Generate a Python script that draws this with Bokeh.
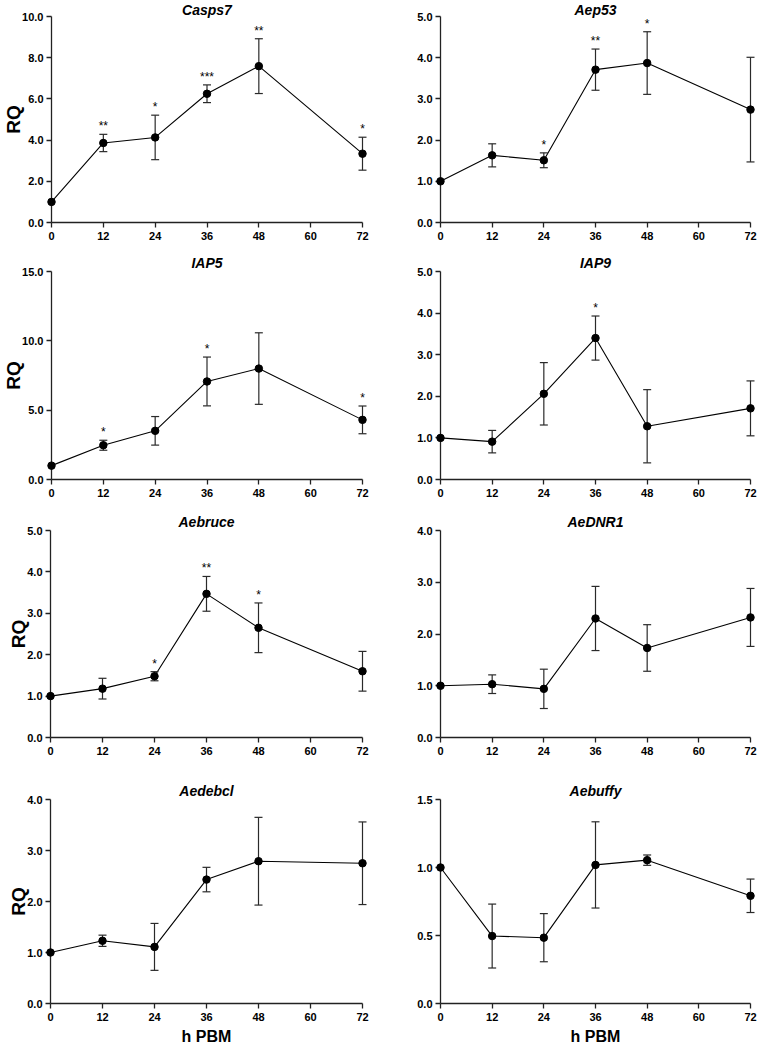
from bokeh.plotting import figure
from bokeh.models import FixedTicker, PrintfTickFormatter, Range1d
from bokeh.layouts import column, row
from bokeh.embed import file_html
from bokeh.resources import INLINE
from bokeh.core.properties import value

hours = [0, 12, 24, 36, 48, 72]
x_ticks = [0, 12, 24, 36, 48, 60, 72]

genes = ["Casps7", "Aep53", "IAP5", "IAP9", "Aebruce", "AeDNR1", "Aedebcl", "Aebuffy"]

casps7_mean = [1.0, 3.86, 4.13, 6.25, 7.59, 3.34]
casps7_err = [0.0, 0.42, 1.08, 0.43, 1.33, 0.80]
casps7_sig = ["", "**", "*", "***", "**", "*"]

aep53_mean = [1.0, 1.63, 1.51, 3.71, 3.87, 2.74]
aep53_err = [0.0, 0.28, 0.18, 0.50, 0.76, 1.27]
aep53_sig = ["", "", "*", "**", "*", ""]

iap5_mean = [1.0, 2.47, 3.51, 7.07, 8.00, 4.30]
iap5_err = [0.0, 0.36, 1.03, 1.76, 2.58, 1.00]
iap5_sig = ["", "*", "", "*", "", "*"]

iap9_mean = [1.0, 0.91, 2.06, 3.40, 1.28, 1.71]
iap9_err = [0.0, 0.27, 0.75, 0.53, 0.88, 0.66]
iap9_sig = ["", "", "", "*", "", ""]

aebruce_mean = [1.0, 1.18, 1.48, 3.47, 2.65, 1.60]
aebruce_err = [0.0, 0.25, 0.11, 0.42, 0.60, 0.48]
aebruce_sig = ["", "", "*", "**", "*", ""]

aednr1_mean = [1.0, 1.03, 0.94, 2.30, 1.73, 2.32]
aednr1_err = [0.0, 0.18, 0.38, 0.62, 0.45, 0.56]
aednr1_sig = ["", "", "", "", "", ""]

aedebcl_mean = [1.0, 1.23, 1.11, 2.43, 2.79, 2.75]
aedebcl_err = [0.0, 0.11, 0.46, 0.24, 0.86, 0.81]
aedebcl_sig = ["", "", "", "", "", ""]

aebuffy_mean = [1.0, 0.496, 0.484, 1.019, 1.054, 0.792]
aebuffy_err = [0.0, 0.235, 0.177, 0.317, 0.038, 0.123]
aebuffy_sig = ["", "", "", "", "", ""]

y_max = [10.0, 5.0, 15.0, 5.0, 5.0, 4.0, 4.0, 1.5]
y_ticks = [
    [0, 2, 4, 6, 8, 10],
    [0, 1, 2, 3, 4, 5],
    [0, 5, 10, 15],
    [0, 1, 2, 3, 4, 5],
    [0, 1, 2, 3, 4, 5],
    [0, 1, 2, 3, 4],
    [0, 1, 2, 3, 4],
    [0, 0.5, 1.0, 1.5],
]

means = [casps7_mean, aep53_mean, iap5_mean, iap9_mean, aebruce_mean, aednr1_mean, aedebcl_mean, aebuffy_mean]
errs = [casps7_err, aep53_err, iap5_err, iap9_err, aebruce_err, aednr1_err, aedebcl_err, aebuffy_err]
sigs = [casps7_sig, aep53_sig, iap5_sig, iap9_sig, aebruce_sig, aednr1_sig, aedebcl_sig, aebuffy_sig]

FONT = "Liberation Sans"
AXIS_COLOR = "#222222"
ERR_COLOR = "#2a2a2a"
LVL = "annotation"

# layout: per row (height, min_border_top, min_border_bottom, title standoff)
row_cfg = [(250, 15, 28, -2), (256, 21, 27, 2), (260, 24, 29, 2), (283, 33, 46, 2)]
# per column (width, min_border_left, min_border_right)
col_cfg = [(392, 50, 30), (366, 48, 8)]


def make_panel(i):
    r, c = divmod(i, 2)
    h, mbt, mbb, tso = row_cfg[r]
    w, mbl, mbr = col_cfg[c]
    p = figure(width=w, height=h, output_backend="svg", toolbar_location=None,
               x_range=Range1d(0, 72), y_range=Range1d(0, y_max[i]),
               min_border_top=mbt, min_border_bottom=mbb,
               min_border_left=mbl, min_border_right=mbr,
               background_fill_color="white", border_fill_color="white")
    p.outline_line_color = None
    p.xgrid.grid_line_color = None
    p.ygrid.grid_line_color = None

    p.title.text = genes[i]
    p.title.align = "center"
    p.title.text_font = FONT
    p.title.text_font_style = "bold italic"
    p.title.text_font_size = "14px"
    p.title.text_color = "black"
    p.title.standoff = tso

    xa = p.xaxis[0]
    xa.ticker = FixedTicker(ticks=x_ticks)
    xa.minor_tick_line_color = None
    xa.major_tick_in = 0
    xa.major_tick_out = 5
    xa.axis_line_color = AXIS_COLOR
    xa.major_tick_line_color = AXIS_COLOR
    xa.axis_line_width = 1.3
    xa.major_tick_line_width = 1.3
    xa.major_label_text_font = FONT
    xa.major_label_text_font_style = "bold"
    xa.major_label_text_font_size = "11px"
    xa.major_label_text_color = "black"
    xa.major_label_standoff = 4
    if r == 3:
        xa.axis_label = "h PBM"
        xa.axis_label_text_font = FONT
        xa.axis_label_text_font_style = "bold"
        xa.axis_label_text_font_size = "16px"
        xa.axis_label_text_color = "black"
        xa.axis_label_standoff = 4

    ya = p.yaxis[0]
    ya.ticker = FixedTicker(ticks=y_ticks[i])
    ya.formatter = PrintfTickFormatter(format="%.1f")
    ya.minor_tick_line_color = None
    ya.major_tick_in = 0
    ya.major_tick_out = 5
    ya.axis_line_color = AXIS_COLOR
    ya.major_tick_line_color = AXIS_COLOR
    ya.axis_line_width = 1.3
    ya.major_tick_line_width = 1.3
    ya.major_label_text_font = FONT
    ya.major_label_text_font_style = "bold"
    ya.major_label_text_font_size = "11px"
    ya.major_label_text_color = "black"
    ya.major_label_standoff = 3
    if c == 0:
        ya.axis_label = "RQ"
        ya.axis_label_text_font = FONT
        ya.axis_label_text_font_style = "bold"
        ya.axis_label_text_font_size = "19px"
        ya.axis_label_text_color = "black"
        ya.axis_label_standoff = -5

    m = means[i]
    e = errs[i]
    s = sigs[i]

    p.line(hours, m, line_color="black", line_width=1.1, level=LVL)

    xe = [hours[k] for k in range(len(hours)) if e[k] > 0]
    lo = [m[k] - e[k] for k in range(len(hours)) if e[k] > 0]
    up = [m[k] + e[k] for k in range(len(hours)) if e[k] > 0]
    p.segment(x0=xe, y0=lo, x1=xe, y1=up, line_color=ERR_COLOR, line_width=1.2, level=LVL)
    p.scatter(x=xe + xe, y=lo + up, marker="dash", size=8, line_color=ERR_COLOR,
              line_width=1.2, level=LVL)

    p.scatter(hours, m, size=7.5, fill_color="black", line_color="black", level=LVL)

    sx = [hours[k] for k in range(len(hours)) if s[k]]
    sy = [m[k] + e[k] for k in range(len(hours)) if s[k]]
    st = [s[k] for k in range(len(hours)) if s[k]]
    p.text(x=sx, y=sy, text=st, text_font=value(FONT), text_font_size="12px",
           text_align="center", text_baseline="bottom", text_color="black",
           y_offset=-1, level=LVL)
    return p


panels = [make_panel(i) for i in range(8)]
layout = column(*[row(panels[2 * r], panels[2 * r + 1]) for r in range(4)])

open("out.html", "w").write(file_html(layout, INLINE))
